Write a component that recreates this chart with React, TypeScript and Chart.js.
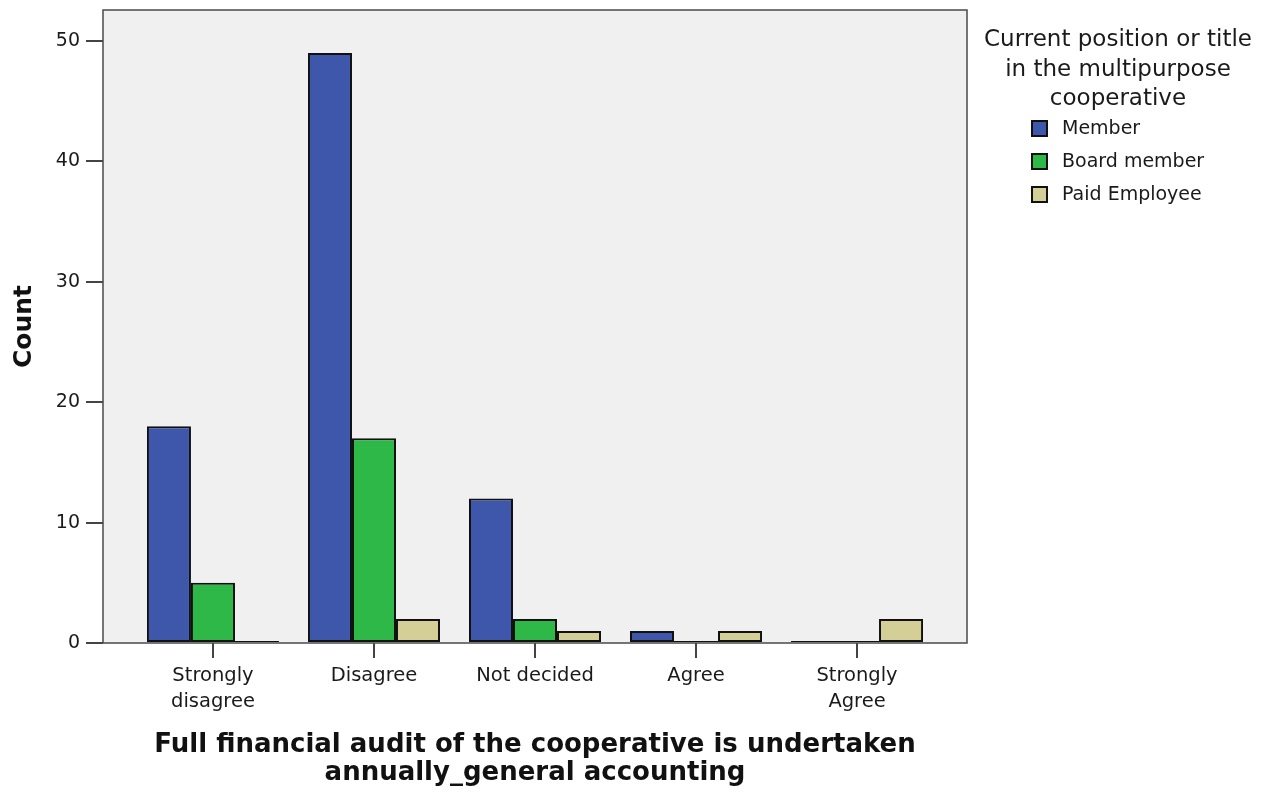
import React, { useEffect, useRef } from "react";
import { Chart, registerables } from "chart.js";

Chart.register(...registerables);

const categories: string[][] = [
  ["Strongly", "disagree"],
  ["Disagree"],
  ["Not decided"],
  ["Agree"],
  ["Strongly", "Agree"],
];
const memberValues = [18, 49, 12, 1, 0];
const boardValues = [5, 17, 2, 0, 0];
const paidValues = [0, 2, 1, 1, 2];
const seriesNames = ["Member", "Board member", "Paid Employee"];
const seriesColors = ["#3E57AB", "#2EB848", "#D4CF97"];
const yTicks = [0, 10, 20, 30, 40, 50];
const legendTitle = ["Current position or title", "in the multipurpose", "cooperative"];
const xTitle = ["Full financial audit of the cooperative is undertaken", "annually_general accounting"];
const yTitle = "Count";

const FONT = "'DejaVu Sans', sans-serif";

export default function App() {
  const ref = useRef<HTMLCanvasElement | null>(null);
  useEffect(() => {
    if (!ref.current) return;
    const seriesData = [memberValues, boardValues, paidValues];
    const boxPlugin = {
      id: "box",
      beforeDatasetsDraw(chart: any) {
        const { ctx, chartArea } = chart;
        ctx.save();
        ctx.fillStyle = "#F0F0F0";
        ctx.fillRect(chartArea.left, chartArea.top, chartArea.right - chartArea.left, chartArea.bottom - chartArea.top);
        ctx.strokeStyle = "#4a4a4a";
        ctx.lineWidth = 1.5;
        ctx.strokeRect(chartArea.left, chartArea.top, chartArea.right - chartArea.left, chartArea.bottom - chartArea.top);
        ctx.restore();
      },
      afterDraw(chart: any) {
        const { ctx } = chart;
        ctx.save();
        ctx.fillStyle = "#1a1a1a";
        ctx.font = `23px ${FONT}`;
        ctx.textAlign = "center";
        ctx.textBaseline = "alphabetic";
        const tb = [46, 75.5, 105];
        legendTitle.forEach((t, i) => ctx.fillText(t, 1118, tb[i]));
        ctx.font = `19px ${FONT}`;
        ctx.textAlign = "left";
        const ib = [133.5, 166.5, 199.5];
        seriesNames.forEach((n, i) => {
          const y = ib[i];
          ctx.fillStyle = seriesColors[i];
          ctx.fillRect(1032, y - 12.5, 15, 15);
          ctx.strokeStyle = "#111";
          ctx.lineWidth = 2;
          ctx.strokeRect(1032, y - 12.5, 15, 15);
          ctx.fillStyle = "#1a1a1a";
          ctx.fillText(n, 1062, y);
        });
        ctx.restore();
      },
    };
    const chart = new Chart(ref.current, {
      type: "bar",
      data: {
        datasets: seriesNames.map((name, s) => ({
          label: name,
          data: seriesData[s].map((v, i) => ({ x: i, y: v })),
          backgroundColor: seriesColors[s],
          borderColor: "#111",
          borderWidth: 2,
          borderSkipped: false,
          minBarLength: 2,
          categoryPercentage: 0.82,
          barPercentage: 1,
        })),
      },
      options: {
        responsive: false,
        animation: false,
        layout: { padding: { top: 10, right: 307, left: 0, bottom: 0 } },
        plugins: { legend: { display: false }, tooltip: { enabled: false } },
        scales: {
          x: {
            type: "linear",
            min: -0.683,
            max: 4.683,
            offset: false,
            border: { display: false },
            grid: { drawOnChartArea: false, offset: false, tickLength: 15, color: "#444", lineWidth: 2 },
            afterBuildTicks: (scale: any) => {
              scale.ticks = categories.map((_, i) => ({ value: i }));
            },
            afterFit: (scale: any) => {
              scale.height = 150;
              scale.paddingLeft = 0;
              scale.paddingRight = 0;
            },
            ticks: {
              autoSkip: false,
              maxRotation: 0,
              padding: 5,
              color: "#1a1a1a",
              font: { family: FONT, size: 19.5, lineHeight: 1.33 },
              callback: (v: any) => categories[Math.round(Number(v))] ?? "",
            },
            title: {
              display: true,
              text: xTitle,
              color: "#111",
              font: { family: FONT, size: 26, weight: "bold", lineHeight: 28 / 26 },
              padding: { top: 0, bottom: 6 },
            },
          },
          y: {
            type: "linear",
            min: 0,
            max: 52.57,
            border: { display: false },
            grid: { drawOnChartArea: false, tickLength: 17, color: "#444", lineWidth: 2 },
            afterBuildTicks: (scale: any) => {
              scale.ticks = yTicks.map((v) => ({ value: v }));
            },
            afterFit: (scale: any) => {
              scale.width = 103;
              scale.paddingTop = 0;
              scale.paddingBottom = 0;
            },
            ticks: {
              padding: 6,
              color: "#1a1a1a",
              font: { family: FONT, size: 19 },
            },
            title: {
              display: true,
              text: yTitle,
              color: "#111",
              font: { family: FONT, size: 25, weight: "bold", lineHeight: 1.2 },
              padding: { top: 9, bottom: 0 },
            },
          },
        },
      },
      plugins: [boxPlugin],
    } as any);
    return () => chart.destroy();
  }, []);
  return (
    <div style={{ position: "absolute", left: 0, top: 0, width: 1274, height: 793, background: "#fff" }}>
      <canvas ref={ref} width={1274} height={793} style={{ display: "block" }} />
    </div>
  );
}
